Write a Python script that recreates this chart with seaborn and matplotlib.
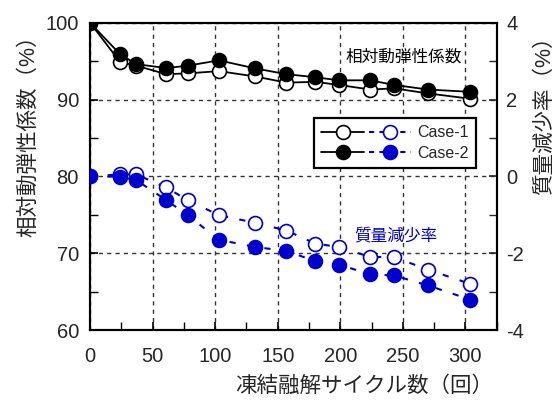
import matplotlib
matplotlib.use("Agg")
import matplotlib.pyplot as plt
import seaborn as sns
import pandas as pd
from matplotlib.lines import Line2D
from matplotlib.legend_handler import HandlerTuple
from matplotlib.ticker import MultipleLocator

# ---- data ----
cycles = [0, 24, 37, 61, 78, 103, 132, 157, 180, 199, 224, 243, 270, 304]
rdm_case1 = [100.0, 94.9, 94.4, 93.3, 93.4, 93.7, 93.0, 92.2, 92.3, 91.9, 91.3, 91.45, 90.8, 90.1]
rdm_case2 = [100.0, 95.9, 94.6, 94.1, 94.4, 95.1, 94.05, 93.3, 92.9, 92.5, 92.5, 91.9, 91.3, 91.0]
mass_case1 = [0.0, 0.05, 0.05, -0.29, -0.62, -1.01, -1.21, -1.41, -1.75, -1.84, -2.10, -2.10, -2.43, -2.80]
mass_case2 = [0.0, -0.01, -0.10, -0.62, -1.01, -1.65, -1.84, -1.94, -2.21, -2.30, -2.55, -2.58, -2.84, -3.21]
legend_labels = ["Case-1", "Case-2"]
xlabel = "凍結融解サイクル数（回）"
ylabel_left = "相対動弾性係数（%）"
ylabel_right = "質量減少率（%）"
note_rdm = "相対動弾性係数"
note_mass = "質量減少率"

sns.set_style("ticks")
plt.rcParams['font.family'] = ['Liberation Sans', 'Noto Sans CJK JP']
plt.rcParams['axes.unicode_minus'] = False

BLUE = '#0000cc'
MS = 10
MEW = 1.2
DASH = (0, (3, 5.5))
DASH_LEG = (0, (2.5, 2.5))

fig = plt.figure(figsize=(5.6, 4.01), dpi=100)
ax = fig.add_axes([90/560, 1-330/401, (496.7-90)/560, (330-22.7)/401])
ax2 = ax.twinx()

df = pd.DataFrame({"cycles": cycles, "r1": rdm_case1, "r2": rdm_case2,
                   "m1": mass_case1, "m2": mass_case2})

sns.lineplot(data=df, x="cycles", y="r1", ax=ax, color='k', lw=1.3, marker='o',
             markersize=MS, markerfacecolor='white', markeredgecolor='k',
             markeredgewidth=MEW, zorder=3)
sns.lineplot(data=df, x="cycles", y="r2", ax=ax, color='k', lw=1.3, marker='o',
             markersize=MS, markerfacecolor='k', markeredgecolor='k',
             markeredgewidth=MEW, zorder=4)
sns.lineplot(data=df, x="cycles", y="m1", ax=ax2, color=BLUE, lw=1.5, marker='o',
             markersize=MS, markerfacecolor='white', markeredgecolor=BLUE,
             markeredgewidth=MEW, linestyle=DASH, zorder=3)
sns.lineplot(data=df, x="cycles", y="m2", ax=ax2, color=BLUE, lw=1.5, marker='o',
             markersize=MS, markerfacecolor=BLUE, markeredgecolor=BLUE,
             markeredgewidth=MEW, linestyle=DASH, zorder=4)

ax.set_xlim(0, 325)
ax.set_ylim(60, 100)
ax2.set_ylim(-4, 4)

ax.xaxis.set_major_locator(MultipleLocator(50))
ax.xaxis.set_minor_locator(MultipleLocator(25))
ax.yaxis.set_major_locator(MultipleLocator(10))
ax.yaxis.set_minor_locator(MultipleLocator(5))
ax2.yaxis.set_major_locator(MultipleLocator(2))
ax2.yaxis.set_minor_locator(MultipleLocator(1))

ax.grid(True, which='major', color='#333333', lw=1.0, linestyle=(0, (3, 3)))
ax.set_axisbelow(True)

for a in (ax, ax2):
    for s in a.spines.values():
        s.set_linewidth(1.5)
        s.set_color('k')
ax.tick_params(axis='both', which='both', direction='in', labelsize=14.5, color='k')
ax.tick_params(axis='both', which='major', length=6, width=1.2)
ax.tick_params(axis='both', which='minor', length=6, width=1.0)
ax.tick_params(axis='y', which='both', right=False, pad=8)
ax.tick_params(axis='x', which='both', top=False, pad=12)
ax2.tick_params(axis='y', which='both', direction='in', labelsize=14.5, pad=7)
ax2.tick_params(axis='y', which='major', length=6, width=1.2)
ax2.tick_params(axis='y', which='minor', length=6, width=1.0)

ax.set_xlabel(xlabel, fontsize=15.5, ha='right')
ax.xaxis.set_label_coords((493-90)/406.7, -0.15)
ax.set_ylabel(ylabel_left, fontsize=15.5)
ax.yaxis.set_label_coords(-0.125, (330-131)/307.3)
ax2.set_ylabel(ylabel_right, fontsize=15.5)
ax2.yaxis.set_label_coords((534-90)/406.7, (330-110)/307.3)

ax.text(251, 95.5, note_rdm, fontsize=12, ha='center', va='center', color='k')
ax2.text(244, -1.54, note_mass, fontsize=12, ha='center', va='center', color=BLUE)

h = []
for fc_k, fc_b in (('white', 'white'), ('k', BLUE)):
    lk = Line2D([], [], color='k', lw=1.3, marker='o', markersize=MS,
                markerfacecolor=fc_k, markeredgecolor='k', markeredgewidth=MEW)
    lb = Line2D([], [], color=BLUE, lw=1.5, marker='o', markersize=MS, linestyle=DASH_LEG,
                markerfacecolor=fc_b, markeredgecolor=BLUE, markeredgewidth=MEW)
    h.append((lk, lb))
leg = ax2.legend(h, legend_labels, handler_map={tuple: HandlerTuple(ndivide=None, pad=0.3)},
                 loc='upper right', bbox_to_anchor=(0.949, 0.69), fontsize=11.5,
                 handlelength=5.6, frameon=True, fancybox=False, framealpha=1,
                 edgecolor='k', borderpad=0.45, labelspacing=0.35, handletextpad=0.4,
                 borderaxespad=0)
leg.get_frame().set_linewidth(1.6)

fig.savefig("out.png", dpi=100)
